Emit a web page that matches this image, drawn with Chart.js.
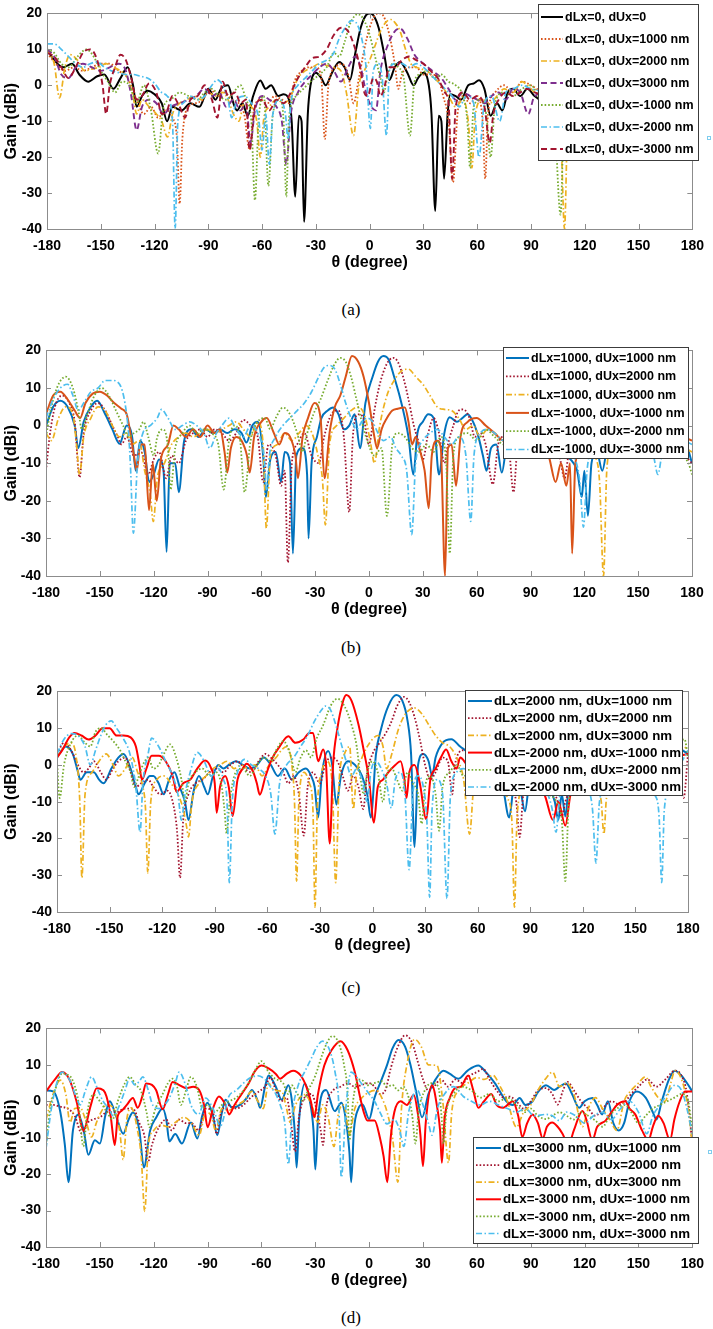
<!DOCTYPE html>
<html>
<head>
<meta charset="utf-8">
<script src="https://cdn.jsdelivr.net/npm/chart.js@4.4.0/dist/chart.umd.min.js"></script>
<style>
  body { margin: 0; background: #fff; width: 713px; height: 1329px; position: relative; overflow: hidden; }
  canvas { position: absolute; left: 0; }
  .cap { position: absolute; left: 0; width: 702px; text-align: center; height: 20px; line-height: 20px;
         font-family: "Liberation Serif", "Times New Roman", serif; font-size: 17px; color: #000; }
</style>
</head>
<body>
<canvas id="pa"></canvas>
<canvas id="pb"></canvas>
<canvas id="pc"></canvas>
<canvas id="pd"></canvas>
<div class="cap" style="top:300px">(a)</div>
<div class="cap" style="top:638px">(b)</div>
<div class="cap" style="top:978px">(c)</div>
<div class="cap" style="top:1308px">(d)</div>
<script>
// tick labels
const thetaTicks = [-180, -150, -120, -90, -60, -30, 0, 30, 60, 90, 120, 150, 180];
const gainTicks = [-40, -30, -20, -10, 0, 10, 20];

// ---- (a) dLx = 0 ----  [theta (deg), gain (dBi)]
const a0 = [[-180,10],[-176,7],[-171,5],[-166,6],[-162,3],[-157,1],[-152,2.5],[-148,3],[-143,-1],[-139,2],[-135,5],[-132,0],[-130,-6],[-127,-3],[-124,-1.5],[-120,-2.5],[-116,-5],[-113,-10],[-110,-6],[-105,-7],[-100,-5],[-95,-6],[-90,-1],[-86,-4],[-83,-1],[-79,0],[-76,-5],[-74,-7],[-71,-5],[-68,-8.5],[-65,-3],[-61,1.3],[-58,-1],[-55,0],[-51,-3],[-48,-2.5],[-45,-4],[-43.5,-10],[-41.5,-31],[-39.5,-8.5],[-38,-10],[-36.6,-38],[-34.5,-8],[-33,0],[-30,3.5],[-27,2],[-24.5,0],[-21,3.5],[-17,6.5],[-14,5],[-11,1.5],[-8,9],[-5,16],[-2,19.5],[0,20],[2,19.5],[5,16],[8,9],[11,1.5],[14,5],[17,6.5],[21,3.5],[24.5,0],[27,2],[30,3.5],[33,0],[34.5,-8],[36.6,-35],[38.5,-8.5],[40,-10],[41.5,-26],[43.5,-8],[45,-2.5],[48,-3],[51,-4],[55,0],[58,0.5],[61,1.4],[64,-1],[67.5,-8.5],[71,-5],[74,-7],[77,-2],[80,-1],[84,-3],[88,-1],[92,-3],[98,-5],[105,-6],[115,-5],[125,-2],[135,4],[145,2],[155,1],[165,6],[172,5],[180,10]];
const a1 = [[-180,9],[-175,6],[-170,4],[-165,5],[-160,4],[-155,5],[-150,6],[-145,6],[-140,4],[-135,2],[-130,-4],[-126,-8],[-122,-6],[-118,-9],[-114,-7],[-110,-9],[-107.5,-15],[-106,-33],[-104.5,-15],[-101,-6],[-97,-5],[-93,-4],[-89,-1],[-85,-3],[-81,-2],[-77,-4],[-73,-5],[-70,-8],[-67,-18],[-65,-8],[-61,-4],[-57,-5],[-53,-3],[-49,-4],[-45,-5],[-42,1],[-38,4],[-34,5],[-30,5],[-27,2],[-25,-15],[-23,0],[-19,5],[-16,6],[-12,3],[-9,-5],[-6,2],[-3,10],[0,16],[3,19.5],[5.5,20],[8,19],[11,14],[14,6],[16,-1],[18,3],[22,5],[26,5],[30,3],[34,3],[38,2],[41,-3],[44,-10],[46.5,-27],[49,-8],[52,-3],[56,-5],[60,-3],[63,-10],[64.5,-26],[66,-8],[70,-2],[75,0],[80,-2],[85,1],[90,0],[100,-3],[120,-4],[140,-2],[160,3],[170,5],[180,9]];
const a2 = [[-180,10],[-176,6],[-173,-3.5],[-170,5],[-167,8.5],[-163,7],[-159,4],[-155,4.5],[-151,5],[-147,6],[-143,5],[-139,4],[-135,2],[-132,-3],[-130,-8],[-127,-4],[-123,-6],[-119,-8],[-116,-10],[-112.8,-14.4],[-110,-8],[-106,-5],[-102,-4],[-98,-3],[-94,-4],[-90,-2],[-86,-3],[-82,-2],[-79,-4],[-76,-8],[-73,-10],[-70,-5],[-66,-6],[-63,-10],[-61,-20],[-59,-9],[-56,-6],[-52,-4],[-48,-5],[-44,-3],[-40,2],[-36,4],[-32,5],[-28,6],[-24,5.5],[-20,5],[-16,4],[-13,-2],[-9,-14],[-6,0],[-3,4],[0,7],[3,11],[6,15],[9,17.5],[11.8,18.3],[14,17.5],[17,15],[20,10],[23,6],[26,5],[29,4.5],[32,4],[36,2],[40,0],[44,-3],[48,-6],[52,-4],[55,-10],[57,-23],[59,-8],[63,-4],[67,-5],[71,-3],[75,-1],[80,-2],[85,1],[88,0],[92,-2],[98,-4],[103,-6],[106.5,-12],[108.7,-40],[110.5,-10],[115,-4],[125,-3],[140,-1],[155,2],[165,5],[172,8],[180,10]];
const a3 = [[-180,10],[-176,8],[-172,3],[-168,2],[-164,5],[-160,6],[-155,5],[-150,4],[-145,5],[-140,6],[-136,4],[-133,-3],[-130,-12.5],[-127,-6],[-123,-4],[-119,-5],[-115,-8],[-111,-6],[-106,-5],[-101,-4],[-97,-3],[-92,-1],[-88,-3],[-84,-2],[-80,-6],[-76,-4],[-72,-7],[-69,-5],[-66.5,-16],[-64,-7],[-60,-3],[-56,-4],[-52,-6],[-49,-10],[-46.5,-22],[-44,-8],[-40,-2],[-36,1],[-32,3],[-28,5],[-24,6],[-20,4],[-16,1],[-12,5],[-8,8],[-5,5],[-2,-2],[1,-6],[3.5,-7],[6,4],[10,11],[14,15],[17,15.8],[21,13],[25,8.5],[30,6],[35,4],[40,2],[44,-1],[48,-4],[52,-2],[56,-3],[60,-4],[64,-5],[68,-3],[72,-2],[76,-4],[80,-1],[84,-2],[88.5,-8],[92,-3],[100,-2],[120,-3],[140,0],[160,4],[170,7],[180,10]];
const a4 = [[-180,10],[-176,9],[-172,6],[-168,5],[-163,8],[-158,10],[-154,8],[-150,4],[-146,1],[-142,-2],[-138,1],[-134,0],[-130,-5],[-126,0],[-122,-7],[-118,-19],[-115,-6],[-111,-4],[-106,-2],[-101,-3],[-96,-4],[-92,-2],[-88,-1],[-84,-3],[-80,-4],[-76,-2],[-72,0],[-69,-4],[-66,-10],[-64,-32],[-62,-10],[-59,-3],[-56.5,-28],[-54,-8],[-50,-4],[-48,-10],[-46.5,-31],[-45,-9],[-41,-3],[-37,-1],[-33,1],[-28,3],[-24,5],[-20,9],[-17,8],[-14,12],[-11,17],[-6.6,19.8],[-3,18],[0,14],[3,8],[6,2],[8,-2],[10,3],[13,6],[16,5],[19,2],[22.5,-14],[25,1],[28,3],[32,4],[36,2],[40,3],[44,1],[48,0],[52,-3],[54.5,-10],[56,-23],[58,-6],[62,-4],[65,-8],[67.5,-20],[70,-5],[75,-2],[80,-3],[85,-1],[90,0],[96,-4],[100,-3],[103,-8],[106.5,-36],[108.5,-7],[112,-3],[120,-4],[135,-1],[150,3],[165,5],[180,10]];
const a5 = [[-180,11.5],[-176,11.5],[-172,10],[-168,8],[-164,6],[-160,5],[-156,6],[-152,6.5],[-148,5],[-144,4],[-140,3.5],[-136,3],[-132,3],[-128,2.5],[-124,2],[-120,0.5],[-116,-2],[-113,-3],[-110,-10],[-108.5,-40],[-107,-10],[-104,-5],[-100,-3],[-96,-4],[-92,-3],[-88,0],[-85,1.5],[-82,0],[-79,-4],[-77,-9],[-74,-4],[-70,-3],[-66,-5],[-62,-9],[-60,-18],[-58,-8],[-56,-22],[-54,-8],[-50,-4],[-47,-8],[-45.5,-15],[-44,-5],[-40,0],[-36,2],[-32,4],[-28,6],[-24,7],[-20,9],[-17,13],[-13,16.5],[-10.3,18],[-7,17],[-4,12],[-2,5],[0.4,-12],[2,4],[5,6],[7,2],[9.4,-14],[11,4],[14,6],[18,6],[22,5],[26,6],[30,5],[34,3],[38,1],[42,-1],[46,-3],[50,-6],[54,-3],[58,-5],[61,-20],[64,-5],[68,-3],[72.5,-10],[76,-2],[80,-1],[85,0],[90,-1],[100,-2],[120,-4],[140,-1],[160,5],[170,9],[180,11]];
const a6 = [[-180,9],[-176,8],[-172,5],[-168,2],[-164,5],[-160,9],[-156,10],[-152,7],[-149,0],[-147,-8],[-145,0],[-142,5],[-139,8.5],[-136,7],[-133,2],[-130,-4],[-127,-3],[-123,0.5],[-119,-2],[-116,-8],[-113,-7],[-110,-3],[-106,-6],[-103,-9],[-100,-4],[-96,-3],[-92,0],[-88,-4],[-85,-9],[-82,1],[-79,-3],[-75,-2],[-72,-5],[-69,-4],[-67,-18],[-64,-6],[-60,-4],[-56,-7],[-52,-4],[-48,-5],[-44,-2],[-40,2],[-36,5],[-32,7.5],[-28,8],[-24,10],[-20,14],[-16,16],[-12,15],[-8,10],[-5,4],[-3,-2],[-1,-3],[2,2],[4,1],[6,-3],[8,-1],[11,5],[14,5],[18,7],[22,8],[26,7],[30,6],[34,4],[38,2],[42,-2],[44,-5],[46,-26],[48,-6],[52,-2],[56,-4],[60,-3],[64,-6],[67,-16],[69,-8],[72,-4],[76,-2],[80,-3],[84,-2],[88,-1],[92,-2],[100,-3],[120,-2],[140,0],[160,4],[170,6],[180,9]];

// ---- (b) dLx = +/-1000 ----
const b0 = [[-180,0],[-176,5],[-172,6.6],[-168,5],[-164,0],[-162,-6],[-159,1],[-155,5],[-151.5,6.6],[-147,3],[-143,-1],[-139,-4.8],[-135,0],[-132,-3],[-130,-12],[-127.5,-4],[-125,-7],[-122.5,-15],[-120,-13],[-117,-9],[-114.5,-12],[-112.8,-33.6],[-111,-10],[-108,-10],[-106,-17.7],[-103,-4],[-99,-1],[-95,-3],[-91,-1],[-87,-2],[-83,-1],[-79,-2],[-75,-1],[-71,-2],[-68.3,-4.5],[-65,0],[-62,1],[-59,-8],[-57.5,-19],[-55,-9],[-52,-7],[-49,-15],[-47,-7],[-44,-10],[-42.4,-34],[-40.5,-8],[-37,-6],[-34.5,-13],[-33.7,-30],[-32,-10],[-29,-3],[-26.5,2],[-23,4],[-20,4.8],[-17,3],[-14,-1],[-11,0],[-8,3],[-5,-6],[-2,6],[2,13],[5,17],[8,18.5],[11,17.5],[14,13],[17,8],[20,2],[22,-3],[24.7,-13],[27,-2],[30,1],[33,3],[36,2],[39,-13],[42,-2],[45,2.2],[49,1],[52,2],[55,3],[58,1],[61,-3],[63.5,-8],[65.5,-12],[68,-6],[71,-5],[74,-12.5],[77,-4],[80,-2],[85,0],[90,-1],[95,-2],[100,-4],[105,-6],[110,-8],[114,-10],[116,-12],[118.6,-19],[120,-12],[122,-24],[124,-10],[127,-7],[130,-12],[133,-5],[140,0],[150,2],[160,0],[165,-4],[170,0],[175,-2],[180,-10]];
const b1 = [[-180,-12],[-178,-3],[-175,5],[-171,8],[-167,6],[-164,1],[-161.3,-13.8],[-159,-2],[-155,4],[-151,6],[-147,4],[-143,0],[-140,-3],[-138,-5],[-135,-3],[-131,-8],[-127,-7],[-123,-13],[-120,-9],[-117,-7],[-113,-14],[-110,-8],[-106,-10],[-102,-4],[-98,-2],[-94,-1],[-90,-3],[-86,-1],[-82,-2],[-78,-4],[-74,-2],[-70,1.5],[-66,0],[-62,-3],[-59,-15],[-56,-5],[-52,-8],[-49,-16],[-47,-12],[-45.2,-36.4],[-43,-10],[-40,-5],[-36,-2],[-32,-8],[-28,-10],[-25,-3],[-21,3],[-17,4],[-14,-3],[-11,-23],[-9,-3],[-6,3],[-3,2],[0,-5],[3,4],[6,11],[10,16.5],[13.5,18],[16,17],[19,13],[22,7],[25,0],[28,-5],[30,-9],[33,-2],[36,2],[39,-2],[42,-10],[44,-5],[47,0],[50,4],[52.6,4.3],[56,2],[59,-3],[62,-2],[65,-5],[69,-15.6],[72,-5],[75,-3],[78,-6],[80.5,-17.7],[83,-5],[90,-3],[100,-5],[106,-8],[109,-14],[112,-6],[120,-7],[125,-4],[130,-6],[140,-3],[150,-1],[160,-2],[170,-5],[180,-10]];
const b2 = [[-180,-2],[-177,-4],[-173,2],[-169,5],[-165,3],[-163,-5],[-161.3,-13],[-159,-3],[-155,2],[-151,5],[-147,4],[-143,0],[-139,-3],[-135,-2],[-132,-5],[-128,-4],[-125,-12],[-122,-18],[-120.2,-25.5],[-118,-14],[-114,-10],[-110,-5],[-106,-3],[-102,-2],[-98,-3],[-94,-2],[-90,-1],[-86,-2],[-82,-1],[-78,0],[-74,1],[-70,-1],[-66,-3],[-62,1],[-59,-5],[-57.2,-27.3],[-55,-8],[-51,-5],[-47,-2],[-43,-4],[-39,-2],[-35,0],[-31,-3],[-28,-9],[-26,-14],[-24.3,-26.4],[-22,-5],[-18,0],[-14,2],[-10,4],[-6,5],[-2,2],[1,-5],[3,-10],[6,0],[10,8],[14,12],[18,14.5],[22,15],[26,13],[30,11],[34,8],[38,5],[42,4.3],[46,4],[50,2],[54,-1],[58,0],[62,-3],[66,-1],[70,-2],[75,-4],[80,-3],[90,-2],[100,-3],[110,-5],[120,-4],[126,-8],[128.5,-15],[130.7,-40],[132.5,-12],[136,-4],[145,-1],[155,0],[165,-2],[172,-5],[180,-7]];
const b3 = [[-180,3],[-176,8],[-172,9],[-168,7],[-164,4],[-161,2],[-158,6],[-154,8.5],[-150,9],[-146,8],[-142,6],[-138,4.5],[-135,3],[-133,-2],[-131,-8],[-129.4,-12],[-127.5,-5],[-125,-5],[-122.6,-22.5],[-120.5,-10],[-118.3,-20],[-116,-9],[-112,-5],[-109,0],[-106,-1],[-102,-3],[-98,-1],[-94,-3],[-90,0],[-86,-2],[-83,-1],[-80.5,-7],[-79,-12.5],[-77,-6],[-74,-3],[-71,-4],[-68,-8],[-66.5,-12.5],[-64,-3],[-60,1],[-57,2],[-53,-2],[-50,-5],[-47,-2],[-44,-3],[-41,-8],[-39.6,-14],[-37,-3],[-34,2],[-30.4,6],[-27,2],[-24.8,-14],[-22,-2],[-19,5],[-16,8],[-13,13],[-9.5,18.5],[-6,17],[-3,13],[0,6],[3,-3],[4.5,-6],[7,-1],[10,2],[13,4],[16,4.5],[20,4.8],[22,1],[24,-5],[26,-3],[28,-6],[31,-12],[33.3,-22],[35,-8],[38,-4],[40,-6],[42.4,-40],[44,-6],[46,-5],[48.5,-16],[51,-3],[55,1],[60,2],[65,0],[70,-2],[75,-4],[80,-3],[90,-5],[100,-8],[104,-15],[107,-10],[110,-16],[112,-10],[113.2,-34],[115,-10],[120,-5],[130,-3],[140,0],[150,2],[160,1],[170,-2],[180,-4]];
const b4 = [[-180,-3],[-177,5],[-173,11],[-169,13],[-165,10],[-162,4],[-160,-1],[-157,3],[-153,8],[-149,10],[-145,8],[-141,4],[-137,0],[-134,-3],[-131,-2],[-128,-1],[-125.7,1],[-123,-3],[-120,-8],[-118,-3],[-115,-1],[-112,-6],[-110.6,-17],[-108,-6],[-104,-2],[-100,0],[-96,-2],[-92,-1],[-88,-2],[-84,-5],[-81,-17],[-78,-4],[-75,0],[-72,-3],[-69.3,-17.7],[-66,-4],[-62,1],[-58,2],[-55,-1],[-52,2],[-48,4.8],[-44,3],[-40,-2],[-37,-7],[-35,-3],[-31,3],[-27,7],[-23,12],[-19,16.5],[-16,18],[-13,17],[-10,13],[-7,7],[-4,1],[-1,-4],[3,-8],[7,-6],[10,-24],[13,-5],[16,-2],[20,-3],[24,-6],[28,-7],[32,-5],[36,-7],[40,-3],[43,-10],[45,-34],[47,-8],[50,-3],[55,-2],[60,-4],[65,-1],[70,-3],[75,-5],[80,-4],[90,-2],[100,-5],[110,-7],[120,-6],[130,-4],[140,-2],[150,-1],[160,-3],[170,-6],[178,-10],[180,-13]];
const b5 = [[-180,2],[-176,7],[-172,10],[-168,11],[-165,8],[-162,4],[-159,6],[-155,9],[-151,10],[-147,12],[-143,12],[-139,11],[-136,6],[-134,-2],[-133,-10],[-131.3,-28.6],[-129,-10],[-126,-2],[-122,0],[-118,2],[-115.6,4.3],[-112,2],[-108,-1],[-104,0],[-100,1],[-96,0],[-92,-2],[-88.7,-6],[-85,-2],[-82,0],[-78,2],[-74,-1],[-70,-3],[-66,0],[-62,-2],[-58.5,-8],[-57,-17],[-55.5,-8],[-52,-3],[-48,0],[-44,2],[-40,4],[-36,6],[-32,9],[-28,13],[-25,15.5],[-22,16],[-19,15],[-16,11],[-13,6],[-10,2],[-7,-1],[-4,1],[-1,2],[2,1],[5,-2],[8,-4],[12,-3],[15,-6],[18,-8],[21,-12],[23.8,-29],[26,-10],[30,-4],[34,-2],[38,-1],[42,-3],[46,-5],[50,-3],[54,-8],[56.7,-25.5],[58.5,-8],[62,-2],[66,-1],[70,-2],[75,-4],[80,-3],[90,-2],[100,-4],[110,-6],[115,-9],[117.5,-15],[119.5,-27],[121.5,-12],[125,-5],[135,-2],[145,-3],[155,-5],[158.5,-8],[161,-13],[163.5,-7],[170,-3],[180,-5]];

// ---- (c) dLx = +/-2000 nm ----
const c0 = [[-180,2],[-175,5],[-171,3],[-168,-2],[-166.7,-4],[-163,-2],[-159,-2],[-156,-4],[-153.4,-5],[-149,-1],[-145,2],[-142,3],[-138,-1],[-135,-6],[-133.5,-8],[-130,-5],[-127,-3],[-125,-3],[-122,-5],[-119.2,-8],[-116,-4],[-113,-2],[-110,-6],[-107,-10],[-105,-15],[-102,-7],[-99,-3],[-96,-6],[-94,-8],[-91,-3],[-88,0],[-85,-1],[-82,0],[-78,1],[-74,0],[-70,-1],[-66,0],[-62,2],[-58,0],[-54,-3],[-50,-1],[-46,-4],[-42,-2],[-38,-1],[-35,-3],[-33,-6],[-31,-14.3],[-29,-3],[-25.3,3.8],[-23,0],[-20.6,-10.8],[-18,-3],[-14,1],[-10,0],[-6,-3],[-3,-8],[-1,-14.3],[2,3],[5,10],[9,16],[13.5,19],[17,17.5],[20,12],[22,3],[24,-22.3],[26,0],[29,3],[32,1],[34,-3],[36,2],[40,6],[45,7],[50,5],[55,3],[60,-2],[65,-4],[70,-1],[74,-5],[78,-14.3],[81,-5],[84,-6],[87,-12.6],[90,-3],[95,-2],[100,-5],[104,-10],[106,-15],[108,-8],[110,-14],[112,-6],[118,-3],[125,-2],[135,-1],[145,1],[155,2],[165,3],[172,5],[180,3]];
const c1 = [[-180,3],[-176,6],[-172,4],[-168,0],[-165,-2],[-162,-1],[-159,1],[-155,-2],[-152,-4],[-148,-1],[-145,1],[-141,2],[-138,-2],[-135,-6],[-132,-5],[-128,-4],[-125,-6],[-121,-8],[-117,-7],[-114,-10],[-111.5,-18],[-109.8,-30.7],[-108,-15],[-105,-8],[-101,-5],[-97,-4],[-93,-2],[-89,-1],[-85,-2],[-81,0],[-77,1],[-73,-1],[-69,-2],[-65,1],[-61,3],[-58,2],[-54,0],[-51,-2],[-48,-5],[-45,-3],[-42,-8],[-39.2,-19.2],[-37,-6],[-34,-2],[-30,-5],[-27,0],[-24,2],[-20,1],[-17,-3],[-14,-7],[-11,-3],[-8,-6],[-5.3,-12],[-3,-2],[0,3],[4,6],[8,9],[11,12],[14,16],[18,18.5],[21,17],[24,13],[27,7],[30,0],[33,-4],[36,-2],[40,2],[43,1],[45.5,-8],[47,0],[52,4],[57,3],[62,0],[67,-1],[72,-2],[77,-4],[82,-10],[84,-19.6],[86,-8],[90,-4],[100,-6],[105,-9],[108,-14],[110,-10],[115,-5],[125,-3],[135,-2],[145,0],[155,1],[165,2],[172,0],[175.5,-5],[177.5,-9],[180,3]];
const c2 = [[-180,2],[-176,5],[-172,6],[-169,2],[-167,-10],[-165.8,-30.7],[-164,-8],[-160,-2],[-156,1],[-152,3],[-148,0],[-145,-3],[-141,-1],[-137,2],[-134,-2],[-131,-6],[-129.5,-12],[-128.2,-29.4],[-126.5,-10],[-123,-4],[-119,-3],[-115,-5],[-111,-8],[-108,-12],[-106,-17],[-105,-19.6],[-103,-10],[-99,-5],[-95,-3],[-91,-1],[-87,0],[-83,1],[-79,-1],[-75,0],[-71,-1],[-67,0],[-63,-3],[-59,0],[-55,2],[-52,4],[-49,5],[-46,0],[-44.5,-10],[-43.3,-31.6],[-42,-10],[-39,-2],[-36,-5],[-34,-12],[-32.8,-38.7],[-31.5,-12],[-29,-2],[-26,1],[-23,-5],[-21,-32],[-19,-4],[-16,3],[-13,5],[-11,-12],[-9,-2],[-6,2],[-3,5],[0,7],[3,8],[6,5],[8,-1],[11,3],[15,10],[19,14],[24,15.5],[28,14],[32,11],[36,8],[40,6],[44,5],[48,2],[52,-4],[55.4,-18.8],[58,-5],[62,-3],[66,-2],[70,-3],[74,-5],[77,-9],[79.5,-15],[81,-38.7],[82.5,-14],[86,-6],[90,-3],[100,-4],[110,-5],[120,-3],[128,-6],[130.5,-10],[132,-18.8],[133.5,-9],[140,-3],[150,-1],[160,1],[170,3],[180,5]];
const c3 = [[-180,2],[-177,4],[-173,7.5],[-170,8.7],[-166,8],[-162,6.9],[-158,8],[-154,10],[-150,10],[-146,8],[-142,8],[-138,7.5],[-135,5],[-133,0],[-131.6,-4],[-129,-1],[-126,2.5],[-122,2.5],[-118,1],[-114,-3],[-111.7,-7.3],[-108,-5],[-104,-4],[-100,-1],[-95.5,1.2],[-92,-1],[-90,-5],[-88.9,-13],[-87,-6],[-84,-3],[-82,-6],[-79.8,-13.9],[-77,-4],[-74,-1],[-71.8,0.3],[-68,-2],[-66,-5],[-64.3,-8.1],[-61,-3],[-57,2],[-53,5],[-48,7.8],[-44,6],[-39.5,6.9],[-36,8.7],[-33.9,8.7],[-31,1],[-28.2,4.2],[-26.5,0],[-24.4,-21.4],[-22.5,0],[-20,10],[-17,17],[-15,19],[-12,17.5],[-8,11],[-5,4],[-2,-4],[0.8,-15.7],[3,-6],[6,-4],[9,-2],[13,0],[16,1],[18,-3],[19.4,-9],[21,-2],[24,0],[27,-5],[30.7,-14.8],[33,-4],[36,-1],[39,2],[42,4.2],[45,1],[48,-1],[50,2],[54,0],[60,-2],[70,-4],[80,-5],[90,-6],[98,-8],[103,-15],[106,-10],[110,-16.5],[113,-8],[120,-4],[130,-3],[140,-1],[150,0],[160,1],[170,2],[180,3]];
const c4 = [[-180,1],[-178.5,-9],[-176,0],[-172,6],[-168,8],[-164,6],[-161,5],[-158,9],[-155,10],[-151,8],[-147,6],[-144,4],[-141,1],[-138,-2],[-136,-6],[-134,-4],[-131,0],[-128,2],[-125,-1],[-122,0],[-119,3],[-115.5,5.6],[-112,2],[-109,-4],[-107,-10],[-105,-5],[-101,-2],[-97,-1],[-93,-3],[-89,-2],[-86,-6],[-84.5,-12],[-83.2,-18.6],[-81.5,-10],[-78,-2],[-74,-1],[-70,-3],[-66,0],[-62,2],[-58,1],[-55,4],[-50.9,6.5],[-47,3],[-44,-2],[-41,2],[-38,4],[-35,2],[-32,7],[-28,11],[-24,16],[-20,18],[-16,16],[-12,11],[-9,5],[-7,-3],[-5,-8],[-3,-2],[0,1],[3,-2],[6,-10],[8,-3],[11,-1],[14,-4],[17,-7],[20,-2],[23,-5],[26,-8],[28,-16],[30,-6],[33,-3],[36,-8],[38,-17.9],[40,-6],[44,-2],[48,0],[52,-3],[56,-2],[60,-4],[70,-3],[80,-5],[90,-6],[100,-8],[105,-10],[108,-15],[110,-31.6],[112,-10],[118,-4],[130,-3],[140,-2],[150,0],[160,1],[170,3],[178,7],[180,2]];
const c5 = [[-180,3],[-176,7],[-172,8.5],[-168,8],[-164,5],[-161,0],[-158,4],[-155,8],[-152,11],[-149,12],[-146,10],[-142,7],[-139,4],[-137,0],[-135,-6],[-132.6,-18.3],[-131,-5],[-128,3],[-126,7.3],[-122,5],[-118,1],[-114,-3],[-111,-8],[-109,-15],[-107,-8],[-104,-2],[-100,3.4],[-96,1],[-92,-3],[-88,-1],[-85,-4],[-83,-10],[-81.7,-32],[-80,-10],[-77,-2],[-73,1.5],[-69,0],[-65,-1],[-61,-3],[-58,-8],[-55.7,-18.8],[-53,-5],[-49,0],[-45,2],[-41,5],[-37,8],[-33,12],[-29,15],[-27,16],[-24,15],[-21,11],[-18,6],[-15,1],[-12,-3],[-9,-1],[-6,-4],[-3,-10],[-1,-2],[2,1],[5,-1],[8,-5],[10.8,-11.7],[13,-4],[16,-2],[18.5,-8],[20.9,-28.5],[23,-8],[26,-3],[29,-6],[31,-15],[32.6,-36],[34,-12],[37,-4],[40,-8],[42.5,-36.3],[44.5,-8],[48,-2],[52,-1],[58,-3],[65,-2],[75,-4],[85,-3],[95,-5],[100,-8],[102.5,-12],[104.7,-18.3],[107,-8],[115,-4],[122,-6],[125.5,-12],[127.5,-26.7],[129.5,-10],[135,-4],[145,-2],[155,-4],[161,-8],[163.5,-14],[165,-32],[166.5,-12],[172,-3],[180,4]];

// ---- (d) dLx = +/-3000 nm ----
const d0 = [[-180,3],[-176,2.7],[-172,-3],[-169.5,-12],[-167.5,-22.2],[-165,-8],[-162,-3.6],[-159,-8],[-156.4,-14.7],[-152.8,-10.7],[-150,-11.6],[-147,-4],[-144.5,0],[-141,-4],[-137,-8.9],[-134,-5],[-131.6,-3.1],[-128,-8],[-125.5,-18.2],[-122,-8],[-118.7,-4.5],[-115,-2],[-113,-5],[-111.3,-11],[-108,-9],[-104.3,-11.6],[-99.3,-5.8],[-95.7,-10.2],[-93,-4],[-90.1,-0.4],[-87,-4],[-84.6,-9.3],[-82,-3],[-80,0.4],[-76.3,-1.8],[-72,-1],[-68,1],[-65.3,3.1],[-62,0],[-60.7,-1.8],[-58,4],[-56,7.1],[-52,4],[-48.7,0.4],[-45,4.4],[-43,0],[-41.5,-8],[-40.4,-18.2],[-39,-5],[-35.8,4.9],[-33,0],[-31,-8],[-30,-18.7],[-28.5,-5],[-24,3.1],[-19.2,-2.7],[-15.5,-0.4],[-13,-5],[-11,-14],[-10,-22.2],[-8.5,-8],[-6,-2],[-3.7,-0.9],[0,-4.9],[3,1],[6.4,5.3],[10,10],[13,14.5],[16.4,16.8],[20,15],[23,10],[26,3],[29.5,-4.4],[33,2],[37,6],[41.4,8.4],[45,7.5],[49.7,6.2],[55,8.5],[60.8,9.8],[65,8],[70,5],[76.4,0],[80,-1],[83.8,0.9],[87,-1],[91,0],[94,2.5],[98.5,4.4],[103,3.1],[106,4],[109.6,4.9],[113,2],[117,-1.8],[120,0],[124.3,0.9],[127,-1],[129.8,-3.6],[133,0],[136,-6],[139,-8],[142,-6],[145,0],[149,2.7],[154,1],[158,-3],[160,-5],[163,0],[167,6],[170.3,8.4],[174,7],[177,5],[180,2.7]];
const d1 = [[-180,-1],[-176,-1],[-172,-1.5],[-168,-2],[-164,-4],[-160,-8.9],[-157,-6],[-154,-5],[-150,-4.4],[-146,-3],[-140.8,-3],[-136,-2],[-131.6,-2],[-128,-6],[-125,-10],[-123.3,-16.9],[-121,-12],[-117,-7],[-113,-5],[-110,-8],[-106,-5],[-102,-6],[-99,-6],[-95,-8],[-91,-2],[-87,-3],[-85,-9],[-83,-4],[-79,-1],[-74,-2],[-70,-1],[-66,1],[-62,2.5],[-58,4],[-55,6.5],[-52,3],[-49,0],[-46,1],[-43.5,-6],[-41.3,-13.8],[-39,-4],[-36,1],[-32,2],[-29,-3],[-27,-8],[-25.7,-12],[-24,-2],[-20,3],[-16,4],[-12,5],[-8,4],[-4,4.5],[0,5],[3,4],[6,2],[9,3],[12,9],[16,15],[20,18.1],[24,16],[27,11],[30,6],[33,3],[36,4],[40,6],[44,4],[48,6],[52,5],[56,7],[60,8],[63.5,8.9],[67,6],[71,3],[75,1],[78.3,1.3],[82,0],[86,-2],[90,0],[94,3],[98.5,3.6],[102,2],[105,-0.9],[108,3],[110.5,5.3],[114,3],[118,0],[122,-2],[126,-4],[130,-2],[135,0],[140,-1],[142.7,0],[146,2],[150,4],[155,6],[160,4],[165,6],[170.3,8.4],[174,7],[177,2],[180,-11.6]];
const d2 = [[-180,-5],[-176,2],[-172,5.8],[-169,2],[-166.6,-5.8],[-164,-2],[-161,-1.8],[-158,-5],[-154.6,-9.8],[-152,-6],[-150,-3.6],[-146,-1],[-142.6,-1.8],[-139,-8],[-137,-16],[-135,-5],[-132.5,-1.8],[-129,-8],[-127,-15],[-125,-30.2],[-123,-12],[-120,-8],[-116,-6.5],[-112,-7],[-108,-5.8],[-103,-4.4],[-99,-6],[-94.7,-9.3],[-91,-3],[-88,-4],[-85.5,-8],[-82,-2],[-78,-2.5],[-74,-1],[-70,0],[-65.3,2.7],[-62,0],[-59,-2],[-56,5],[-53,3],[-48.7,2.7],[-46,-2],[-44,-5.8],[-41,-1],[-36,1.8],[-32,-1],[-28.6,-5.8],[-26,-1],[-23,-4],[-19.6,-12.4],[-17,-3],[-14,-1],[-11,-8.9],[-8,-2],[-4,1],[0,2.5],[4,3],[7,1],[10,-3],[13,-10],[16,-22.2],[18,-2],[21,10],[25.4,17],[29,15],[33,10],[37.8,9.8],[41,0],[44.2,-16.9],[46,-3],[50,3],[55,5],[60,6.5],[64,6],[69,7.1],[73,4],[77,0],[82,-7.1],[86,-3],[90,-1],[94,3],[98,6],[102.2,8],[106,4],[110,5],[114,2],[118.8,-7],[122,-2],[126,1],[130,-2],[134,-5],[138,-8],[142,0],[146,3],[150,5],[153.8,6.7],[157,4],[161,1],[164.8,0],[168,5],[170.3,8.4],[174,6],[177,0],[180,-11.6]];
const d3 = [[-180,2.7],[-175,6],[-171,8],[-167,6],[-163,0],[-159.2,-8],[-155,-1],[-151.8,3.6],[-148,3],[-146.3,1.3],[-144,-4],[-141.7,-12],[-140,-4],[-138,-2.7],[-135,-1],[-131.6,0.9],[-128.9,-1.8],[-126,2],[-124.3,4.9],[-121,4.5],[-118.7,3.1],[-115,-2.2],[-112,2],[-109.5,5.3],[-106,4.5],[-102,3.6],[-98,4],[-94.7,3.1],[-92,-1],[-90,-7.1],[-87,-2],[-83.7,1.3],[-80,-1],[-78,-3.6],[-75,-1],[-71,2],[-67,5],[-64,8],[-60,9.8],[-56,9],[-52,7.5],[-49.6,6.2],[-46,7.5],[-42.4,8.4],[-38,7],[-35,4],[-32.5,0],[-30.5,-4.4],[-28.5,2],[-25,9.8],[-21,14],[-16,16.5],[-12,14],[-8,8],[-5,1],[-3,-3],[-1,-5.3],[3,-5.3],[6,-10],[8,-15],[10.1,-22.2],[12,-10],[14,-3],[17.5,0],[21,-1],[24.9,1.7],[27,-3],[28.5,-9],[30,-17.8],[31.5,-6],[35,4.4],[38,-2],[39.5,-8],[40.5,-16.9],[42,-5],[45,1],[47.9,3.6],[51,4],[55.2,7.1],[58,3],[60.8,-1.8],[64,0],[68,2],[71,-1],[74.6,-1.8],[80,0],[83,-4],[85.3,-9.8],[88,-6],[91,-3.6],[94,-6],[96.7,-10.2],[99,-7],[102,-5.8],[105,-7],[107.7,-8.9],[111,-12],[114,-8],[118.8,-2.7],[121,-5],[124.3,-10.7],[127,-7],[131.7,-5.3],[135,-3],[138,-1],[142.7,0],[145,-2],[148.2,-3.6],[152,-8],[155.6,-10.7],[158,-7],[161,-4],[164,-6],[167.6,-10.7],[170,-5],[173,0],[175.9,2.7],[180,2.7]];
const d4 = [[-180,-12],[-178,-3],[-175,3],[-171,7.6],[-167,7],[-165.6,6.2],[-162,0],[-159.2,-12.4],[-157,-3],[-153.6,1.8],[-150,0],[-146,-3],[-143,-5],[-140,0],[-136,5],[-133.4,6.7],[-130,4.5],[-127,2.7],[-124,-3],[-122.4,-7.1],[-119,-2],[-115,2],[-112,5],[-109.5,6.2],[-107,4],[-104.9,-1],[-102,3],[-99.3,6.7],[-96,4],[-92.9,-1.8],[-90,-1],[-86,-3],[-82,-1],[-78,0],[-74,1],[-70,3],[-66,6],[-63,9],[-60,11],[-56,8],[-52.4,6.2],[-48,5],[-45,2],[-43.2,4.4],[-40,2],[-37,0],[-34,3],[-30,7],[-26,13],[-23,16.5],[-20.5,17.9],[-17,16],[-14,10],[-12,2],[-11,-10.7],[-9,0],[-6,6],[-3,5.5],[-1,4.4],[3,5],[7,5.5],[10,4],[13,4.5],[16,3],[19,4],[22,1],[24,-4],[25.8,-11.6],[27.5,-3],[31,3],[35,5],[38.5,4],[40.3,-4],[41.4,-11.6],[43,-3],[47,2],[52,4],[57,3],[62,1],[67,2],[72,0],[77,1],[82,-1],[87,-3],[90,-2],[94,-4],[98.5,-4.9],[102,-4],[106,-3],[110,-4],[114,-5],[118,-3],[122,-4],[126,-5.3],[130,-7],[134,-4],[138,-2],[142.7,-1],[146,-3],[150,-6],[154,-4],[158,-2],[162,-1],[166,0],[170,1],[174,2],[177.7,0],[180,-8]];
const d5 = [[-180,-13],[-177,-2],[-174,5],[-171,8],[-167,6],[-163,1],[-161,-1],[-158,3],[-154.6,6.7],[-151,3],[-148.2,0],[-145,-2],[-142.6,-4],[-139,-1],[-136,3],[-133.4,6.2],[-130.5,4.5],[-128,5.5],[-126.1,6.7],[-123,3],[-120.6,-1],[-117,-2],[-114,-1],[-111.3,0.9],[-108,5],[-105.8,8],[-102,4],[-99.3,-1],[-95.1,-3.6],[-91,0.9],[-87,-2],[-82.8,-6.7],[-78.2,1.3],[-74,3],[-70,5],[-66,6.5],[-62,7],[-58,6],[-55,4],[-52,2],[-49.6,-0.9],[-47,-6],[-45,-17.3],[-43,-4],[-39.5,4.4],[-36,8],[-32,12],[-29,15],[-26,16.5],[-22,14],[-19,8],[-17,0],[-15.5,-20.9],[-13,-2],[-10,8],[-6,6],[-3,4],[0,2],[3,0],[6,-3],[10,-6.2],[14,-5],[17,-8],[19.3,-12.4],[22,-3],[26.7,3.1],[30,-1],[33,-6],[35,-9.3],[38,-2],[42,2],[47,4],[52.5,1.3],[57,0],[62,-1],[67,0],[72,-1],[77,-2],[82,-3],[87,-2],[92,-4],[98.5,-3.6],[102,-4],[106,-5.3],[110,-3],[115,-4],[120,-6],[125,-4],[130,-3],[135,-5],[140,-2],[145,0],[150,-3],[154.7,-8.9],[158,-4],[162,-1],[166,2],[170.3,4.4],[174,3],[177,-2],[180,-9]];

const C = {
  black: '#000000', orange: '#D95319', yellow: '#EDB120', purple: '#7E2F8E',
  green: '#77AC30', cyan: '#4DBEEE', wine: '#A2142F', blue: '#0072BD', red: '#FF0000'
};
const STYLE = {
  solid:   { dash: [],            width: 2 },
  dotted:  { dash: [1.6, 2],      width: 1.8 },
  dashdot: { dash: [6, 2.5, 1.5, 2.5], width: 1.7 },
  dashed:  { dash: [6, 3.5],      width: 1.9 }
};

const panels = [
  { id: 'pa', box: { l: 47, r: 697, t: 7, b: 229 }, stray: [709, 138],
    legend: { x: 538, y: 4, w: 160, h: 156, row0: 17, step: 22, sample: 22, font: 12.5 },
    series: [
      ['dLx=0, dUx=0', a0, C.black, 'solid'],
      ['dLx=0, dUx=1000 nm', a1, C.orange, 'dotted'],
      ['dLx=0, dUx=2000 nm', a2, C.yellow, 'dashdot'],
      ['dLx=0, dUx=3000 nm', a3, C.purple, 'dashed'],
      ['dLx=0, dUx=-1000 nm', a4, C.green, 'dotted'],
      ['dLx=0, dUx=-2000 nm', a5, C.cyan, 'dashdot'],
      ['dLx=0, dUx=-3000 nm', a6, C.wine, 'dashed']
    ] },
  { id: 'pb', box: { l: 46, r: 692, t: 345, b: 576 },
    legend: { x: 503, y: 347, w: 185, h: 111, row0: 358, step: 18.3, sample: 23, font: 12.5 },
    series: [
      ['dLx=1000, dUx=1000 nm', b0, C.blue, 'solid'],
      ['dLx=1000, dUx=2000 nm', b1, C.wine, 'dotted'],
      ['dLx=1000, dUx=3000 nm', b2, C.yellow, 'dashdot'],
      ['dLx=-1000, dUx=-1000 nm', b3, C.orange, 'solid'],
      ['dLx=-1000, dUx=-2000 nm', b4, C.green, 'dotted'],
      ['dLx=-1000, dUx=-3000 nm', b5, C.cyan, 'dashdot']
    ] },
  { id: 'pc', box: { l: 57, r: 688, t: 686, b: 912 },
    legend: { x: 465, y: 690, w: 217, h: 105, row0: 701, step: 17.2, sample: 24, font: 13.3 },
    series: [
      ['dLx=2000 nm, dUx=1000 nm', c0, C.blue, 'solid'],
      ['dLx=2000 nm, dUx=2000 nm', c1, C.wine, 'dotted'],
      ['dLx=2000 nm, dUx=3000 nm', c2, C.yellow, 'dashdot'],
      ['dLx=-2000 nm, dUx=-1000 nm', c3, C.red, 'solid'],
      ['dLx=-2000 nm, dUx=-2000 nm', c4, C.green, 'dotted'],
      ['dLx=-2000 nm, dUx=-3000 nm', c5, C.cyan, 'dashdot']
    ] },
  { id: 'pd', box: { l: 46, r: 698, t: 1023, b: 1247 }, stray: [710, 1152],
    legend: { x: 473, y: 1137, w: 225, h: 106, row0: 1148, step: 17.1, sample: 25, font: 13.3 },
    series: [
      ['dLx=3000 nm, dUx=1000 nm', d0, C.blue, 'solid'],
      ['dLx=3000 nm, dUx=2000 nm', d1, C.wine, 'dotted'],
      ['dLx=3000 nm, dUx=3000 nm', d2, C.yellow, 'dashdot'],
      ['dLx=-3000 nm, dUx=-1000 nm', d3, C.red, 'solid'],
      ['dLx=-3000 nm, dUx=-2000 nm', d4, C.green, 'dotted'],
      ['dLx=-3000 nm, dUx=-3000 nm', d5, C.cyan, 'dashdot']
    ] }
];

Chart.defaults.font.family = '"Liberation Sans", Arial, Helvetica, sans-serif';
const AXIS_H = 44;

// MATLAB-like box with inward ticks, then the boxed legend on top
function boxPlugin(p) {
  return {
    id: 'boxPlugin',
    afterDatasetsDraw(chart) {
      const ctx = chart.ctx;
      const a = chart.chartArea;
      const xs = chart.scales.x, ys = chart.scales.y;
      const off = p.canvasTop;
      ctx.save();
      ctx.strokeStyle = '#8c8c8c';
      ctx.lineWidth = 1;
      ctx.setLineDash([]);
      ctx.strokeRect(Math.round(a.left) + 0.5, Math.round(a.top) + 0.5,
                     Math.round(a.right - a.left), Math.round(a.bottom - a.top));
      ctx.beginPath();
      thetaTicks.forEach(v => {
        const x = Math.round(xs.getPixelForValue(v)) + 0.5;
        ctx.moveTo(x, a.bottom); ctx.lineTo(x, a.bottom - 5);
        ctx.moveTo(x, a.top); ctx.lineTo(x, a.top + 5);
      });
      gainTicks.forEach(v => {
        const y = Math.round(ys.getPixelForValue(v)) + 0.5;
        ctx.moveTo(a.left, y); ctx.lineTo(a.left + 5, y);
        ctx.moveTo(a.right, y); ctx.lineTo(a.right - 5, y);
      });
      ctx.stroke();

      if (p.stray) {
        ctx.strokeStyle = '#7fcdee';
        ctx.strokeRect(p.stray[0] - 1.5, p.stray[1] - off - 1.5, 3, 3);
      }

      const lg = p.legend;
      ctx.fillStyle = '#fff';
      ctx.fillRect(lg.x, lg.y - off, lg.w, lg.h);
      ctx.strokeStyle = '#3c3c3c';
      ctx.strokeRect(lg.x + 0.5, lg.y - off + 0.5, lg.w, lg.h);
      ctx.font = 'bold ' + lg.font + 'px "Liberation Sans", Arial, sans-serif';
      ctx.textBaseline = 'middle';
      p.series.forEach((s, i) => {
        const st = STYLE[s[3]];
        const y = lg.row0 - off + i * lg.step;
        ctx.strokeStyle = s[2];
        ctx.lineWidth = st.width;
        ctx.setLineDash(st.dash);
        ctx.beginPath();
        ctx.moveTo(lg.x + 3, y); ctx.lineTo(lg.x + 3 + lg.sample, y);
        ctx.stroke();
        ctx.setLineDash([]);
        ctx.fillStyle = '#000';
        ctx.fillText(s[0], lg.x + 5 + lg.sample, y + 0.5);
      });
      ctx.restore();
    }
  };
}

panels.forEach(p => {
  const padTop = Math.min(8, p.box.t);
  p.canvasTop = p.box.t - padTop;
  const cv = document.getElementById(p.id);
  cv.width = 713;
  cv.height = p.box.b + AXIS_H - p.canvasTop;
  cv.style.top = p.canvasTop + 'px';

  const datasets = p.series.map((s, i) => ({
    label: s[0],
    data: s[1].map(pt => ({ x: pt[0], y: pt[1] })),
    borderColor: s[2],
    borderWidth: STYLE[s[3]].width,
    borderDash: STYLE[s[3]].dash,
    borderCapStyle: 'butt',
    pointRadius: 0,
    fill: false,
    cubicInterpolationMode: 'monotone',
    order: -i
  }));

  new Chart(cv.getContext('2d'), {
    type: 'line',
    data: { datasets },
    options: {
      responsive: false,
      animation: false,
      events: [],
      layout: { padding: { top: padTop, right: 713 - p.box.r, left: 0, bottom: 0 } },
      plugins: { legend: { display: false }, tooltip: { enabled: false } },
      scales: {
        x: {
          type: 'linear', min: -180, max: 180,
          afterBuildTicks: s => { s.ticks = thetaTicks.map(v => ({ value: v })); },
          afterFit: s => { s.height = AXIS_H; },
          grid: { display: false, drawTicks: false }, border: { display: false },
          ticks: { padding: 9, autoSkip: false, maxRotation: 0, color: '#000',
                   font: { size: 14, weight: 'bold' } },
          title: { display: true, text: 'θ (degree)', color: '#000',
                   font: { size: 16, weight: 'bold' }, padding: { top: 0, bottom: 1 } }
        },
        y: {
          min: -40, max: 20,
          afterBuildTicks: s => { s.ticks = gainTicks.map(v => ({ value: v })); },
          afterFit: s => { s.width = p.box.l; },
          grid: { display: false, drawTicks: false }, border: { display: false },
          ticks: { padding: 5, color: '#000', font: { size: 14, weight: 'bold' } },
          title: { display: true, text: 'Gain (dBi)', color: '#000',
                   font: { size: 16, weight: 'bold' }, padding: { top: 2, bottom: 0 } }
        }
      }
    },
    plugins: [boxPlugin(p)]
  });
});
</script>
</body>
</html>
